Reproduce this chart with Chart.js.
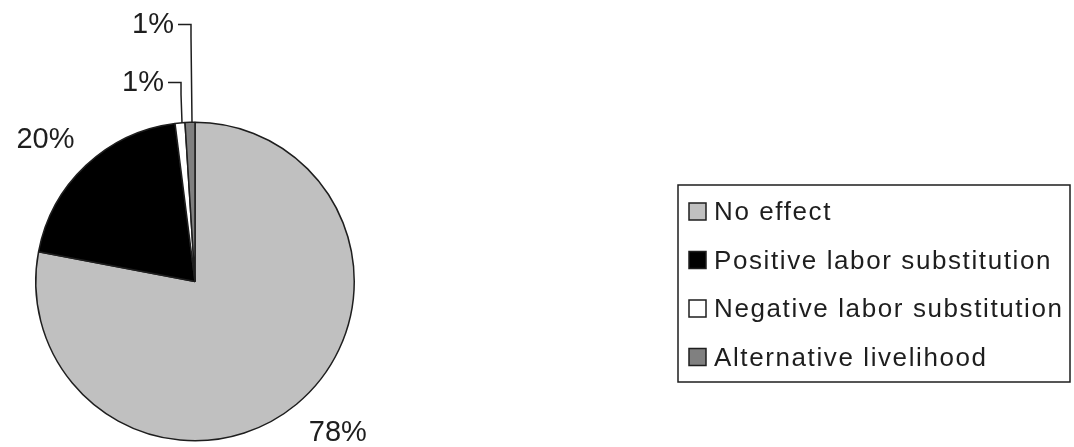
<!DOCTYPE html>
<html>
<head>
<meta charset="utf-8">
<script src="https://cdn.jsdelivr.net/npm/chart.js@4/dist/chart.umd.min.js"></script>
<style>
  body { margin: 0; background: #fff; }
  canvas { display: block; }
</style>
</head>
<body>
<canvas id="pie" width="1074" height="447"></canvas>
<script>
// Categories and shares (percent)
const categories = [
  "No effect",
  "Positive labor substitution",
  "Negative labor substitution",
  "Alternative livelihood",
];
const shares = [78, 20, 1, 1];
const sliceColors = ["#c0c0c0", "#000000", "#ffffff", "#808080"];

const FONT = '"Liberation Sans", Arial, sans-serif';
const INK = "#1e1e1e";

// Percent labels: the big slices get their label out along the mid angle,
// the two thin ones are lifted above the pie with an elbow leader line.
const pieLabels = {
  id: "pieLabels",
  afterDatasetsDraw(chart) {
    const ctx = chart.ctx;
    const arcs = chart.getDatasetMeta(0).data;
    ctx.save();
    ctx.font = "29px " + FONT;
    ctx.fillStyle = INK;
    ctx.strokeStyle = INK;
    ctx.lineWidth = 1.5;
    ctx.textBaseline = "middle";
    const lifted = { 3: 257, 2: 199 }; // height above centre for thin slices
    const nudge = { 0: [12, -7], 1: [-9, 8] };
    arcs.forEach((arc, i) => {
      const p = arc.getProps(["x", "y", "startAngle", "endAngle", "outerRadius"], true);
      const mid = (p.startAngle + p.endAngle) / 2;
      const txt = shares[i] + "%";
      if (lifted[i] !== undefined) {
        const ax = p.x + Math.cos(mid) * p.outerRadius;
        const ay = p.y + Math.sin(mid) * p.outerRadius;
        const ly = p.y - lifted[i];
        const lx = ax - 12;
        ctx.beginPath();
        ctx.moveTo(ax + 2, ay);
        ctx.lineTo(ax + 1, ly + 12);
        ctx.lineTo(ax + 1, ly);
        ctx.lineTo(lx, ly);
        ctx.stroke();
        ctx.textAlign = "right";
        ctx.fillText(txt, lx - 4, ly);
      } else {
        const r = p.outerRadius + 46;
        const [dx, dy] = nudge[i];
        ctx.textAlign = "center";
        ctx.fillText(txt, p.x + Math.cos(mid) * r + dx, p.y + Math.sin(mid) * r + dy);
      }
    });
    ctx.restore();
  },
};

// Boxed legend on the right
const boxLegend = {
  id: "boxLegend",
  afterDraw(chart) {
    const ctx = chart.ctx;
    const left = 678, top = 185, width = 392, height = 197;
    const rowGap = 48.5, firstRow = 212;
    ctx.save();
    ctx.strokeStyle = INK;
    ctx.lineWidth = 1.5;
    ctx.strokeRect(left, top, width, height);
    ctx.font = "26px " + FONT;
    ctx.letterSpacing = "1.6px";
    ctx.textBaseline = "middle";
    ctx.textAlign = "left";
    categories.forEach((name, i) => {
      const y = firstRow + i * rowGap;
      ctx.fillStyle = sliceColors[i];
      ctx.fillRect(689, y - 9, 17, 17);
      ctx.strokeRect(689, y - 9, 17, 17);
      ctx.fillStyle = INK;
      ctx.fillText(name, 714, y + 1);
    });
    ctx.restore();
  },
};

new Chart(document.getElementById("pie"), {
  type: "pie",
  data: {
    labels: categories,
    datasets: [{
      data: shares,
      backgroundColor: sliceColors,
      borderColor: INK,
      borderWidth: 1.5,
    }],
  },
  options: {
    responsive: false,
    animation: false,
    events: [],
    layout: { padding: { left: 35, top: 121, right: 719, bottom: 5 } },
    plugins: {
      legend: { display: false },
      tooltip: { enabled: false },
    },
  },
  plugins: [pieLabels, boxLegend],
});
</script>
</body>
</html>
